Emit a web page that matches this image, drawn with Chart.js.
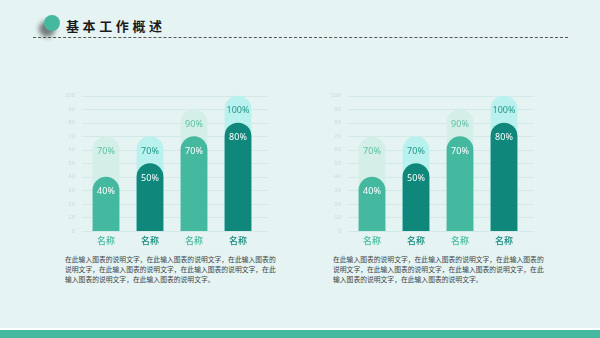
<!DOCTYPE html>
<html>
<head>
<meta charset="utf-8">
<script src="https://cdn.jsdelivr.net/npm/chart.js@4"></script>
<style>
  body { margin: 0; width: 600px; height: 338px; background: #e5f4f3; position: relative; overflow: hidden;
         font-family: "Noto Sans CJK SC", "Noto Sans", sans-serif; }
  .dot { position: absolute; left: 44px; top: 15px; width: 16px; height: 16px; border-radius: 50%;
         background: #45b8a0; box-shadow: -5px 6px 5px rgba(0,0,0,0.5); }
  .title { position: absolute; left: 66px; top: 16px; font-size: 13px; font-weight: bold; color: #1a1a1a;
           letter-spacing: 3.6px; line-height: 20px; }
  .dash { position: absolute; left: 33px; right: 32px; top: 37px; border-top: 1.5px dashed #555; }
  .desc { position: absolute; top: 254px; font-size: 6.8px; line-height: 10.2px; color: #444; }
  .bar1 { position: absolute; left: 0; right: 0; top: 328px; height: 2px; background: #ffffff; }
  .bar2 { position: absolute; left: 0; right: 0; top: 330px; height: 8px; background: #45b8a0; }
  canvas { position: absolute; }
</style>
</head>
<body>
<div class="dot"></div>
<div class="title">基本工作概述</div>
<div class="dash"></div>
<canvas id="chartLeft" width="213" height="167" style="left:57px;top:83px"></canvas>
<canvas id="chartRight" width="213" height="167" style="left:323px;top:83px"></canvas>
<div class="desc" style="left:65px">在此输入图表的说明文字，在此输入图表的说明文字，在此输入图表的<br>说明文字，在此输入图表的说明文字，在此输入图表的说明文字，在此<br>输入图表的说明文字，在此输入图表的说明文字。</div>
<div class="desc" style="left:333px">在此输入图表的说明文字，在此输入图表的说明文字，在此输入图表的<br>说明文字，在此输入图表的说明文字，在此输入图表的说明文字，在此<br>输入图表的说明文字，在此输入图表的说明文字。</div>
<div class="bar1"></div>
<div class="bar2"></div>
<script>
const categories = ['名称', '名称', '名称', '名称'];
const frontValues = [40, 50, 70, 80];
const backValues = [70, 70, 90, 100];
const yTicks = [0, 10, 20, 30, 40, 50, 60, 70, 80, 90, 100];

const frontColors = ['#45b8a0', '#0f877b', '#45b8a0', '#0f877b'];
const backColors = ['#d4eee8', '#b9f1ee', '#d4eee8', '#b9f1ee'];
const backTextColors = ['#5cc0a6', '#24978a', '#5cc0a6', '#24978a'];
const catColors = ['#45b8a0', '#0f877b', '#45b8a0', '#0f877b'];

const gridLines = {
  id: 'gridLines',
  beforeDatasetsDraw(chart) {
    const { ctx, chartArea, scales } = chart;
    ctx.save();
    ctx.strokeStyle = '#d3e9e8';
    ctx.lineWidth = 1;
    yTicks.forEach(v => {
      const y = Math.round(scales.y.getPixelForValue(v)) + 0.5;
      ctx.beginPath();
      ctx.moveTo(chartArea.left - 2, y);
      ctx.lineTo(chartArea.right + 8, y);
      ctx.stroke();
    });
    ctx.restore();
  }
};

const barLabels = {
  id: 'barLabels',
  afterDatasetsDraw(chart) {
    const { ctx } = chart;
    ctx.save();
    ctx.font = '9px "Noto Sans", sans-serif';
    ctx.textAlign = 'center';
    ctx.textBaseline = 'middle';
    chart.data.datasets.forEach((ds, di) => {
      chart.getDatasetMeta(di).data.forEach((el, i) => {
        ctx.fillStyle = di === 0 ? '#ffffff' : backTextColors[i];
        ctx.fillText(ds.data[i] + '%', el.x, el.y + 15);
      });
    });
    ctx.restore();
  }
};

function makeChart(id) {
  new Chart(document.getElementById(id), {
    type: 'bar',
    data: {
      labels: categories,
      datasets: [{
        data: frontValues,
        backgroundColor: frontColors,
        borderRadius: 20,
        borderSkipped: 'start',
        grouped: false
      },
      {
        data: backValues,
        backgroundColor: backColors,
        borderRadius: 20,
        borderSkipped: 'start',
        grouped: false
      }]
    },
    options: {
      responsive: false,
      animation: false,
      layout: { padding: { top: 1, right: 10, left: 0, bottom: 0 } },
      categoryPercentage: 1,
      barPercentage: 0.61,
      plugins: { legend: { display: false }, tooltip: { enabled: false } },
      scales: {
        x: {
          grid: { display: false, drawTicks: false, tickLength: 0 },
          border: { display: false },
          afterFit: s => { s.height = 19; },
          ticks: {
            padding: 4,
            font: { size: 9, weight: '500', family: '"Noto Sans CJK SC"' },
            color: c => catColors[c.index]
          }
        },
        y: {
          min: 0,
          max: 100,
          grid: { display: false, drawTicks: false, tickLength: 0 },
          border: { display: false },
          afterFit: s => { s.width = 27; },
          ticks: {
            stepSize: 10,
            padding: 9,
            font: { size: 6 },
            color: '#c6dcdb'
          }
        }
      }
    },
    plugins: [gridLines, barLabels]
  });
}

makeChart('chartLeft');
makeChart('chartRight');
</script>
</body>
</html>
